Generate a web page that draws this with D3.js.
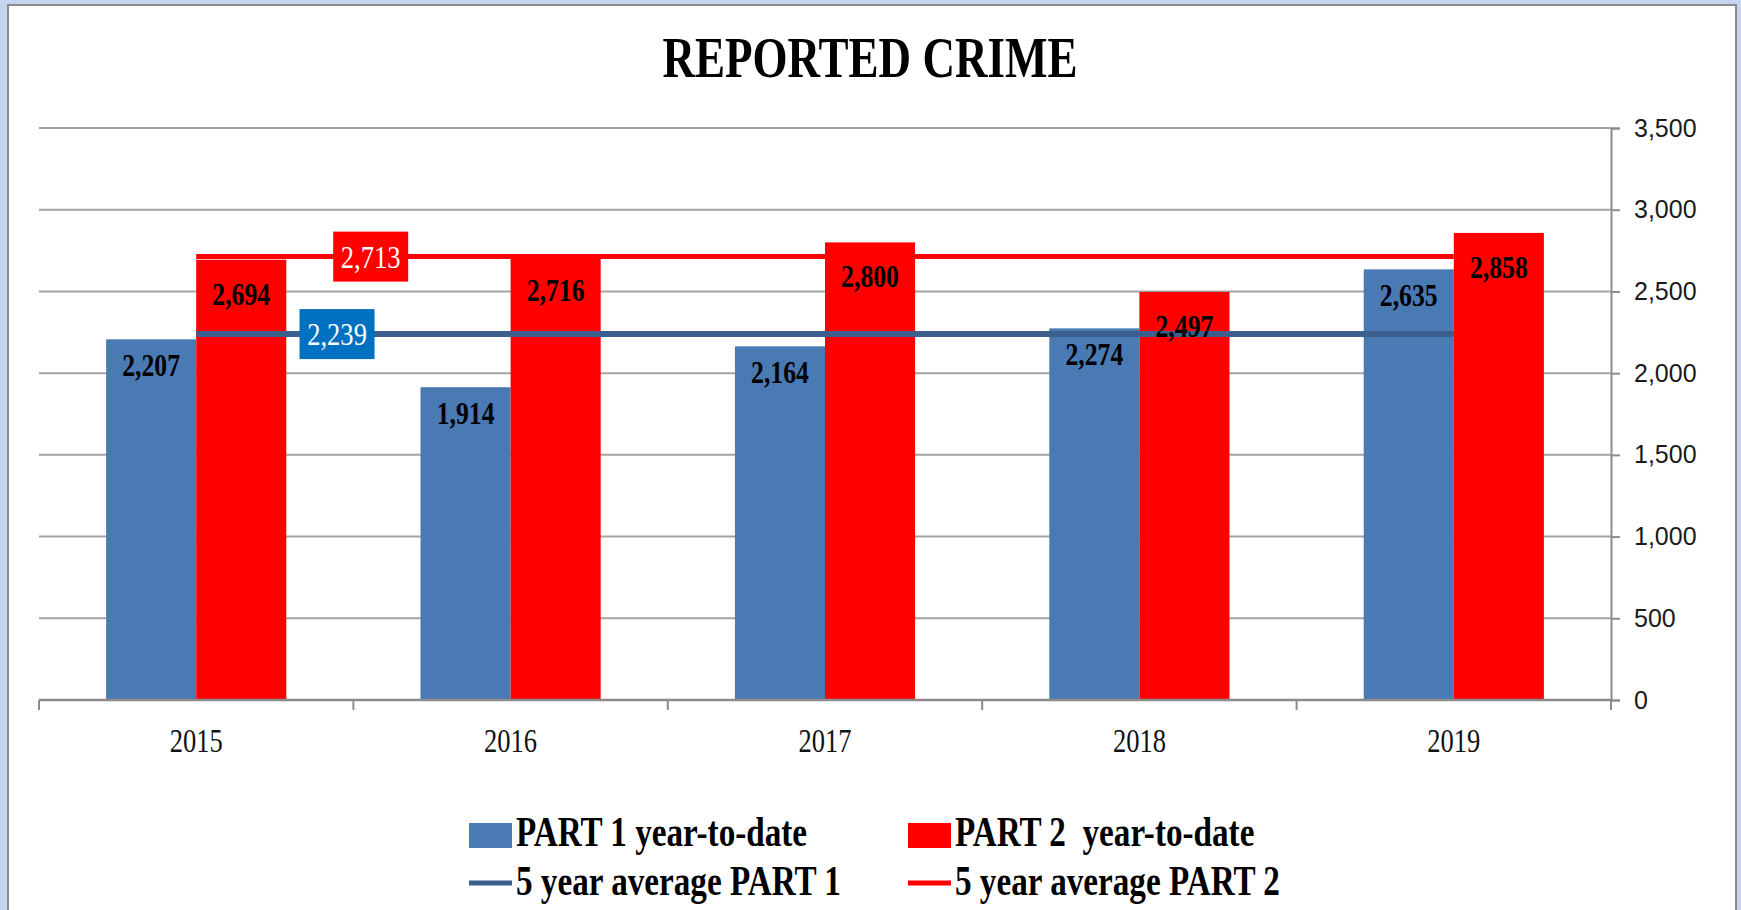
<!DOCTYPE html>
<html>
<head>
<meta charset="utf-8">
<script src="https://cdnjs.cloudflare.com/ajax/libs/d3/7.8.5/d3.min.js"></script>
<style>
body{margin:0;background:#c6d4ee;}
svg{display:block;}
</style>
</head>
<body>
<script>
// data
var years = ["2015", "2016", "2017", "2018", "2019"];
var part1 = [2207, 1914, 2164, 2274, 2635];
var part2 = [2694, 2716, 2800, 2497, 2858];
var avgPart1 = [2239, 2239, 2239, 2239, 2239];
var avgPart2 = [2713, 2713, 2713, 2713, 2713];
var yTicks = [0, 500, 1000, 1500, 2000, 2500, 3000, 3500];
var seriesNames = ["PART 1 year-to-date", "PART 2  year-to-date", "5 year average PART 1", "5 year average PART 2"];

var w = 1741;
var h = 910;
var blue = "#4a7ab4";
var red = "#ff0000";
var blueLine = "#3c5f8e";
var serif = "'Liberation Serif', 'Times New Roman', serif";

var svg = d3.select("body")
	.append("svg")
	.attr("width", w)
	.attr("height", h);

// white chart area with gray frame
svg.append("rect")
	.attr("x", 8).attr("y", 5)
	.attr("width", 1728).attr("height", h)
	.attr("fill", "#fff")
	.attr("stroke", "#8a8a8a")
	.attr("stroke-width", 2);

// note: "top" is taken by window.top, so plotTop
var plotLeft = 39, plotRight = 1611, plotTop = 128, plotBottom = 700;

var x = d3.scaleBand().domain(years).range([plotLeft, plotRight]).padding(0);
var y = d3.scaleLinear().domain([0, 3500]).range([plotBottom, plotTop]);
var groupW = x.bandwidth() * 0.573;
var xs = d3.scaleBand().domain(["p1", "p2"]).range([-groupW / 2, groupW / 2]);

function cx(d){ return x(d) + x.bandwidth() / 2; }

// helper for the squeezed looking text of the original
function squeezed(g, tx, ty, sx, txt){
	return g.append("text")
		.attr("transform", "translate(" + tx + "," + ty + ") scale(" + sx + ",1)")
		.text(txt);
}

// title
squeezed(svg, 870, 77, 0.79, "REPORTED CRIME")
	.attr("text-anchor", "middle")
	.attr("font-family", serif)
	.attr("font-weight", "bold")
	.attr("font-size", 57)
	.attr("fill", "#000");

// gridlines
svg.append("g").selectAll("line")
	.data(yTicks)
	.enter()
	.append("line")
	.attr("x1", plotLeft).attr("x2", plotRight)
	.attr("y1", function(d){ return y(d); })
	.attr("y2", function(d){ return y(d); })
	.attr("stroke", "#a3a3a3")
	.attr("stroke-width", 2);

// right axis
var yAxis = svg.append("g")
	.attr("transform", "translate(" + plotRight + ",0)")
	.call(d3.axisRight(y).tickValues(yTicks).tickSize(9).tickPadding(14).tickFormat(d3.format(",")));
yAxis.select(".domain").attr("stroke", "#8c8c8c").attr("stroke-width", 2);
yAxis.selectAll(".tick line").attr("stroke", "#8c8c8c").attr("stroke-width", 2);
yAxis.selectAll("text")
	.attr("font-family", "'Liberation Sans', Arial, sans-serif")
	.attr("font-size", 25)
	.attr("fill", "#1a1a1a");

// bars
var bars = svg.append("g");
bars.selectAll(".b1")
	.data(years)
	.enter()
	.append("rect")
	.attr("x", function(d){ return cx(d) + xs("p1"); })
	.attr("y", function(d,i){ return y(part1[i]); })
	.attr("width", xs.bandwidth())
	.attr("height", function(d,i){ return plotBottom - y(part1[i]); })
	.attr("fill", blue);
bars.selectAll(".b2")
	.data(years)
	.enter()
	.append("rect")
	.attr("x", function(d){ return cx(d) + xs("p2"); })
	.attr("y", function(d,i){ return y(part2[i]); })
	.attr("width", xs.bandwidth())
	.attr("height", function(d,i){ return plotBottom - y(part2[i]); })
	.attr("fill", red);

// x axis, ticks on the category edges
var xAxis = svg.append("g");
xAxis.append("line")
	.attr("x1", plotLeft).attr("x2", plotRight)
	.attr("y1", plotBottom).attr("y2", plotBottom)
	.attr("stroke", "#8c8c8c").attr("stroke-width", 2.5);
xAxis.selectAll(".edge")
	.data(years.concat(["end"]))
	.enter()
	.append("line")
	.attr("x1", function(d){ return d == "end" ? plotRight : x(d); })
	.attr("x2", function(d){ return d == "end" ? plotRight : x(d); })
	.attr("y1", plotBottom).attr("y2", plotBottom + 10)
	.attr("stroke", "#8c8c8c").attr("stroke-width", 2);
years.forEach(function(d){
	squeezed(xAxis, cx(d), 752, 0.78, d)
		.attr("text-anchor", "middle")
		.attr("font-family", serif)
		.attr("font-size", 34)
		.attr("fill", "#111");
});

// 5 year average lines
var line = d3.line()
	.x(function(d,i){ return cx(years[i]); })
	.y(function(d){ return y(d); });
svg.append("path")
	.datum(avgPart2)
	.attr("d", line)
	.attr("fill", "none")
	.attr("stroke", red)
	.attr("stroke-width", 5);
svg.append("path")
	.datum(avgPart1)
	.attr("d", line)
	.attr("fill", "none")
	.attr("stroke", blueLine)
	.attr("stroke-width", 6);

// bar labels
var fmt = d3.format(",");
var labels = svg.append("g")
	.attr("font-family", serif)
	.attr("font-weight", "bold")
	.attr("font-size", 31)
	.attr("fill", "#000")
	.attr("text-anchor", "middle");
years.forEach(function(d,i){
	squeezed(labels, cx(d) + xs("p1") + xs.bandwidth() / 2, y(part1[i]) + 37, 0.83, fmt(part1[i]));
	squeezed(labels, cx(d) + xs("p2") + xs.bandwidth() / 2, y(part2[i]) + 45, 0.83, fmt(part2[i]));
});

// average labels in boxes
function avgLabel(val, frac, fill){
	var bx = cx(years[0]) + x.step() * frac;
	var by = y(val);
	var g = svg.append("g");
	g.append("rect")
		.attr("x", bx - 37.5).attr("y", by - 25)
		.attr("width", 75).attr("height", 50)
		.attr("fill", fill);
	squeezed(g, bx, by + 11, 0.83, fmt(val))
		.attr("text-anchor", "middle")
		.attr("font-family", serif)
		.attr("font-size", 32)
		.attr("fill", "#fff");
}
avgLabel(avgPart2[0], 0.555, red);
avgLabel(avgPart1[0], 0.448, "#0070c0");

// legend
var legend = svg.append("g");
var legendX = [469, 908];
var legendY = [846, 895];
legend.append("rect").attr("x", legendX[0]).attr("y", 823).attr("width", 43).attr("height", 25).attr("fill", blue);
legend.append("rect").attr("x", legendX[1]).attr("y", 823).attr("width", 43).attr("height", 25).attr("fill", red);
legend.append("line").attr("x1", legendX[0]).attr("x2", legendX[0] + 43).attr("y1", 883).attr("y2", 883)
	.attr("stroke", blueLine).attr("stroke-width", 5);
legend.append("line").attr("x1", legendX[1]).attr("x2", legendX[1] + 43).attr("y1", 883).attr("y2", 883)
	.attr("stroke", red).attr("stroke-width", 5);
seriesNames.forEach(function(s,i){
	squeezed(legend, legendX[i % 2] + 47, legendY[Math.floor(i / 2)], 0.79, s)
		.attr("font-family", serif)
		.attr("font-weight", "bold")
		.attr("font-size", 42)
		.attr("fill", "#000")
		.style("white-space", "pre");
});
</script>
</body>
</html>
